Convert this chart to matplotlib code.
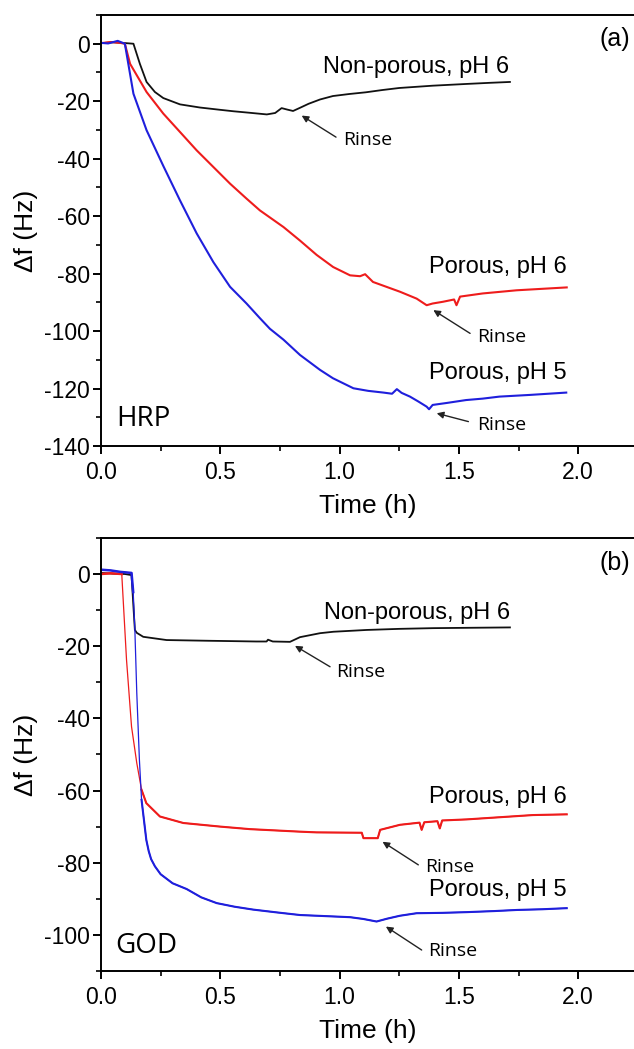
import matplotlib
matplotlib.use("Agg")
import matplotlib.pyplot as plt
from matplotlib.ticker import MultipleLocator

plt.rcParams['font.family'] = ['Liberation Sans', 'DejaVu Sans']
plt.rcParams['axes.unicode_minus'] = False

# ---- panel (a): HRP ----
t_np_a = [0, 0.05, 0.09, 0.136, 0.163, 0.191, 0.226, 0.261, 0.331, 0.415, 0.5, 0.555, 0.62,
          0.695, 0.73, 0.757, 0.78, 0.805, 0.834, 0.87, 0.918, 0.972, 1.04, 1.11, 1.18, 1.25,
          1.39, 1.53, 1.63, 1.714]
f_np_a = [0.2, 0.5, 0.3, 0, -7, -13.3, -16.8, -18.9, -21.1, -22.2, -23, -23.5, -24,
          -24.6, -24.1, -22.4, -22.9, -23.4, -22.3, -20.9, -19.4, -18.2, -17.5, -16.9, -16.1, -15.4,
          -14.6, -14.0, -13.6, -13.3]

t_p6_a = [0, 0.04, 0.08, 0.10, 0.122, 0.191, 0.261, 0.331, 0.401, 0.471, 0.541, 0.61, 0.666,
          0.765, 0.834, 0.904, 0.973, 1.044, 1.086, 1.107, 1.14, 1.253, 1.323, 1.365, 1.39,
          1.433, 1.48, 1.49, 1.505, 1.60, 1.742, 1.952]
f_p6_a = [0.2, 0.6, 0.3, 0, -7, -16.8, -24.3, -30.7, -37.1, -42.9, -48.7, -53.9, -58,
          -63.8, -68.5, -73.5, -77.7, -80.6, -80.9, -80.2, -82.9, -86.3, -88.7, -91, -90.4,
          -89.8, -89, -91, -88, -86.9, -85.8, -84.8]

t_p5_a = [0, 0.03, 0.07, 0.10, 0.136, 0.191, 0.261, 0.331, 0.401, 0.471, 0.541, 0.61, 0.666,
          0.708, 0.765, 0.834, 0.918, 0.972, 1.058, 1.12, 1.184, 1.22, 1.24, 1.26, 1.295, 1.33,
          1.365, 1.375, 1.39, 1.45, 1.53, 1.6, 1.67, 1.8, 1.95]
f_p5_a = [0.3, 0.1, 1.0, 0, -17.4, -30.1, -42.5, -54.5, -66, -76, -84.6, -90.4, -95.5,
          -99.2, -103, -108.3, -113.5, -116.4, -119.9, -120.8, -121.4, -121.8, -120.2, -121.5,
          -122.8, -124.5, -126.3, -127.2, -125.7, -125, -124, -123.5, -122.8, -122.2, -121.4]

# ---- panel (b): GOD ----
t_np_b = [0, 0.05, 0.10, 0.128, 0.135, 0.142, 0.15, 0.177, 0.275, 0.45, 0.555, 0.65,
          0.694, 0.70, 0.72, 0.792, 0.834, 0.918, 0.974, 1.114, 1.25, 1.393, 1.55, 1.714]
f_np_b = [0.3, 0.1, 0, -0.3, -8, -15.5, -16.3, -17.4, -18.3, -18.5, -18.6, -18.7,
          -18.7, -18.2, -18.7, -18.8, -17.5, -16.4, -16.0, -15.5, -15.2, -15.0, -14.9, -14.8]

t_p6_b = [0, 0.04, 0.087, 0.107, 0.128, 0.15, 0.17, 0.19, 0.247, 0.345, 0.5, 0.624,
          0.834, 0.904, 1.093, 1.10, 1.16, 1.17, 1.253, 1.335, 1.344, 1.355, 1.41, 1.42, 1.43,
          1.533, 1.81, 1.952]
f_p6_b = [0, 0.2, 0, -23.8, -42.3, -52.4, -59.8, -63.5, -67.2, -69, -70, -70.7,
          -71.4, -71.6, -71.7, -73.2, -73.2, -70.9, -69.5, -68.9, -70.9, -68.8, -68.5, -70.5, -68.3,
          -68, -66.8, -66.6]

t_p5_b = [0, 0.04, 0.08, 0.128, 0.135, 0.142, 0.15, 0.161, 0.17, 0.19, 0.2, 0.21, 0.226,
          0.25, 0.3, 0.359, 0.42, 0.485, 0.56, 0.638, 0.74, 0.834, 0.94, 1.044, 1.1, 1.155,
          1.2, 1.253, 1.323, 1.43, 1.533, 1.65, 1.742, 1.85, 1.952]
f_p5_b = [1.2, 1.0, 0.6, 0.3, -5, -15.5, -33, -51.5, -62.6, -73.7, -76.8, -79, -81,
          -83.2, -85.7, -87.3, -89.6, -91.2, -92.2, -93, -93.8, -94.5, -94.8, -95.1, -95.6, -96.3,
          -95.5, -94.7, -94, -93.9, -93.7, -93.4, -93.1, -92.9, -92.6]

black = '#111111'
red = '#ee1c1c'
blue = '#1f1fdc'

fig = plt.figure(figsize=(6.34, 10.49), dpi=100)
ax_a = fig.add_axes([0.1593, 0.5748, 0.8407, 0.4109])
ax_b = fig.add_axes([0.1593, 0.0744, 0.8407, 0.4128])


def style(ax, ylim, yticks):
    ax.set_xlim(0, 2.234)
    ax.set_ylim(*ylim)
    ax.set_yticks(yticks)
    ax.set_xticks([0.0, 0.5, 1.0, 1.5, 2.0])
    ax.set_xticklabels(['0.0', '0.5', '1.0', '1.5', '2.0'])
    ax.xaxis.set_minor_locator(MultipleLocator(0.25))
    ax.yaxis.set_minor_locator(MultipleLocator(10))
    ax.spines['right'].set_visible(False)
    for s in ['left', 'bottom', 'top']:
        ax.spines[s].set_linewidth(1.4)
    ax.tick_params(which='major', direction='out', length=6, width=1.4, labelsize=16.5, pad=2)
    ax.tick_params(axis='x', which='major', pad=5)
    ax.tick_params(which='minor', direction='out', length=3.5, width=1.2)
    ax.tick_params(top=False, right=False, which='both')
    ax.set_xlabel('Time (h)', fontsize=19, labelpad=7)
    ax.set_ylabel('Δf (Hz)', fontsize=19, labelpad=4)


def rinse(ax, text_xy, tail, head):
    ax.annotate('', xy=head, xytext=tail,
                arrowprops=dict(arrowstyle='-|>', color='#222222', lw=1.0,
                                mutation_scale=10, shrinkA=0, shrinkB=0))
    ax.text(text_xy[0], text_xy[1], 'Rinse', fontsize=14, family=['Open Sans', 'DejaVu Sans'],
            va='center', ha='left')


# panel (a)
ax_a.plot(t_np_a, f_np_a, color=black, lw=1.3)
ax_a.plot(t_p6_a, f_p6_a, color=red, lw=1.5)
ax_a.plot(t_p5_a, f_p5_a, color=blue, lw=1.5)
style(ax_a, (-140, 10), list(range(-140, 1, 20)))
ax_a.text(0.930, -8.2, 'Non-porous, pH 6', fontsize=17, va='center')
ax_a.text(1.376, -77.7, 'Porous, pH 6', fontsize=17, va='center')
ax_a.text(1.376, -114.7, 'Porous, pH 5', fontsize=17, va='center')
ax_a.text(2.217, 1.6, '(a)', fontsize=18, va='center', ha='right')
ax_a.text(0.066, -130.7, 'HRP', fontsize=20, va='center', family=['Open Sans', 'DejaVu Sans'])
rinse(ax_a, (1.014, -33.4), (0.985, -32.5), (0.841, -25.0))
rinse(ax_a, (1.575, -102.2), (1.547, -100.8), (1.393, -92.7))
rinse(ax_a, (1.575, -132.6), (1.54, -131.5), (1.407, -128.6))

# panel (b) - steep drops are sparse in the data, so they look thinner
ax_b.plot(t_np_b, f_np_b, color=black, lw=1.3)
ax_b.plot(t_p6_b, f_p6_b, color=red, lw=0.9)
ax_b.plot(t_p6_b[:3], f_p6_b[:3], color=red, lw=1.8)
ax_b.plot(t_p6_b[6:], f_p6_b[6:], color=red, lw=1.5)
ax_b.plot(t_p5_b, f_p5_b, color=blue, lw=0.9)
ax_b.plot(t_p5_b[:5], f_p5_b[:5], color=blue, lw=1.8)
ax_b.plot(t_p5_b[8:], f_p5_b[8:], color=blue, lw=1.5)
style(ax_b, (-110, 10), list(range(-100, 1, 20)))
ax_b.text(0.935, -10.9, 'Non-porous, pH 6', fontsize=17, va='center')
ax_b.text(1.376, -61.7, 'Porous, pH 6', fontsize=17, va='center')
ax_b.text(1.376, -87.5, 'Porous, pH 5', fontsize=17, va='center')
ax_b.text(2.217, 3.0, '(b)', fontsize=18, va='center', ha='right')
ax_b.text(0.059, -103, 'GOD', fontsize=20, va='center', family=['Open Sans', 'DejaVu Sans'])
rinse(ax_b, (0.985, -27.1), (0.96, -25.7), (0.813, -19.9))
rinse(ax_b, (1.358, -81.2), (1.33, -80.6), (1.18, -74.2))
rinse(ax_b, (1.372, -104.6), (1.344, -104.2), (1.194, -97.7))

fig.savefig('out.png', dpi=100)
